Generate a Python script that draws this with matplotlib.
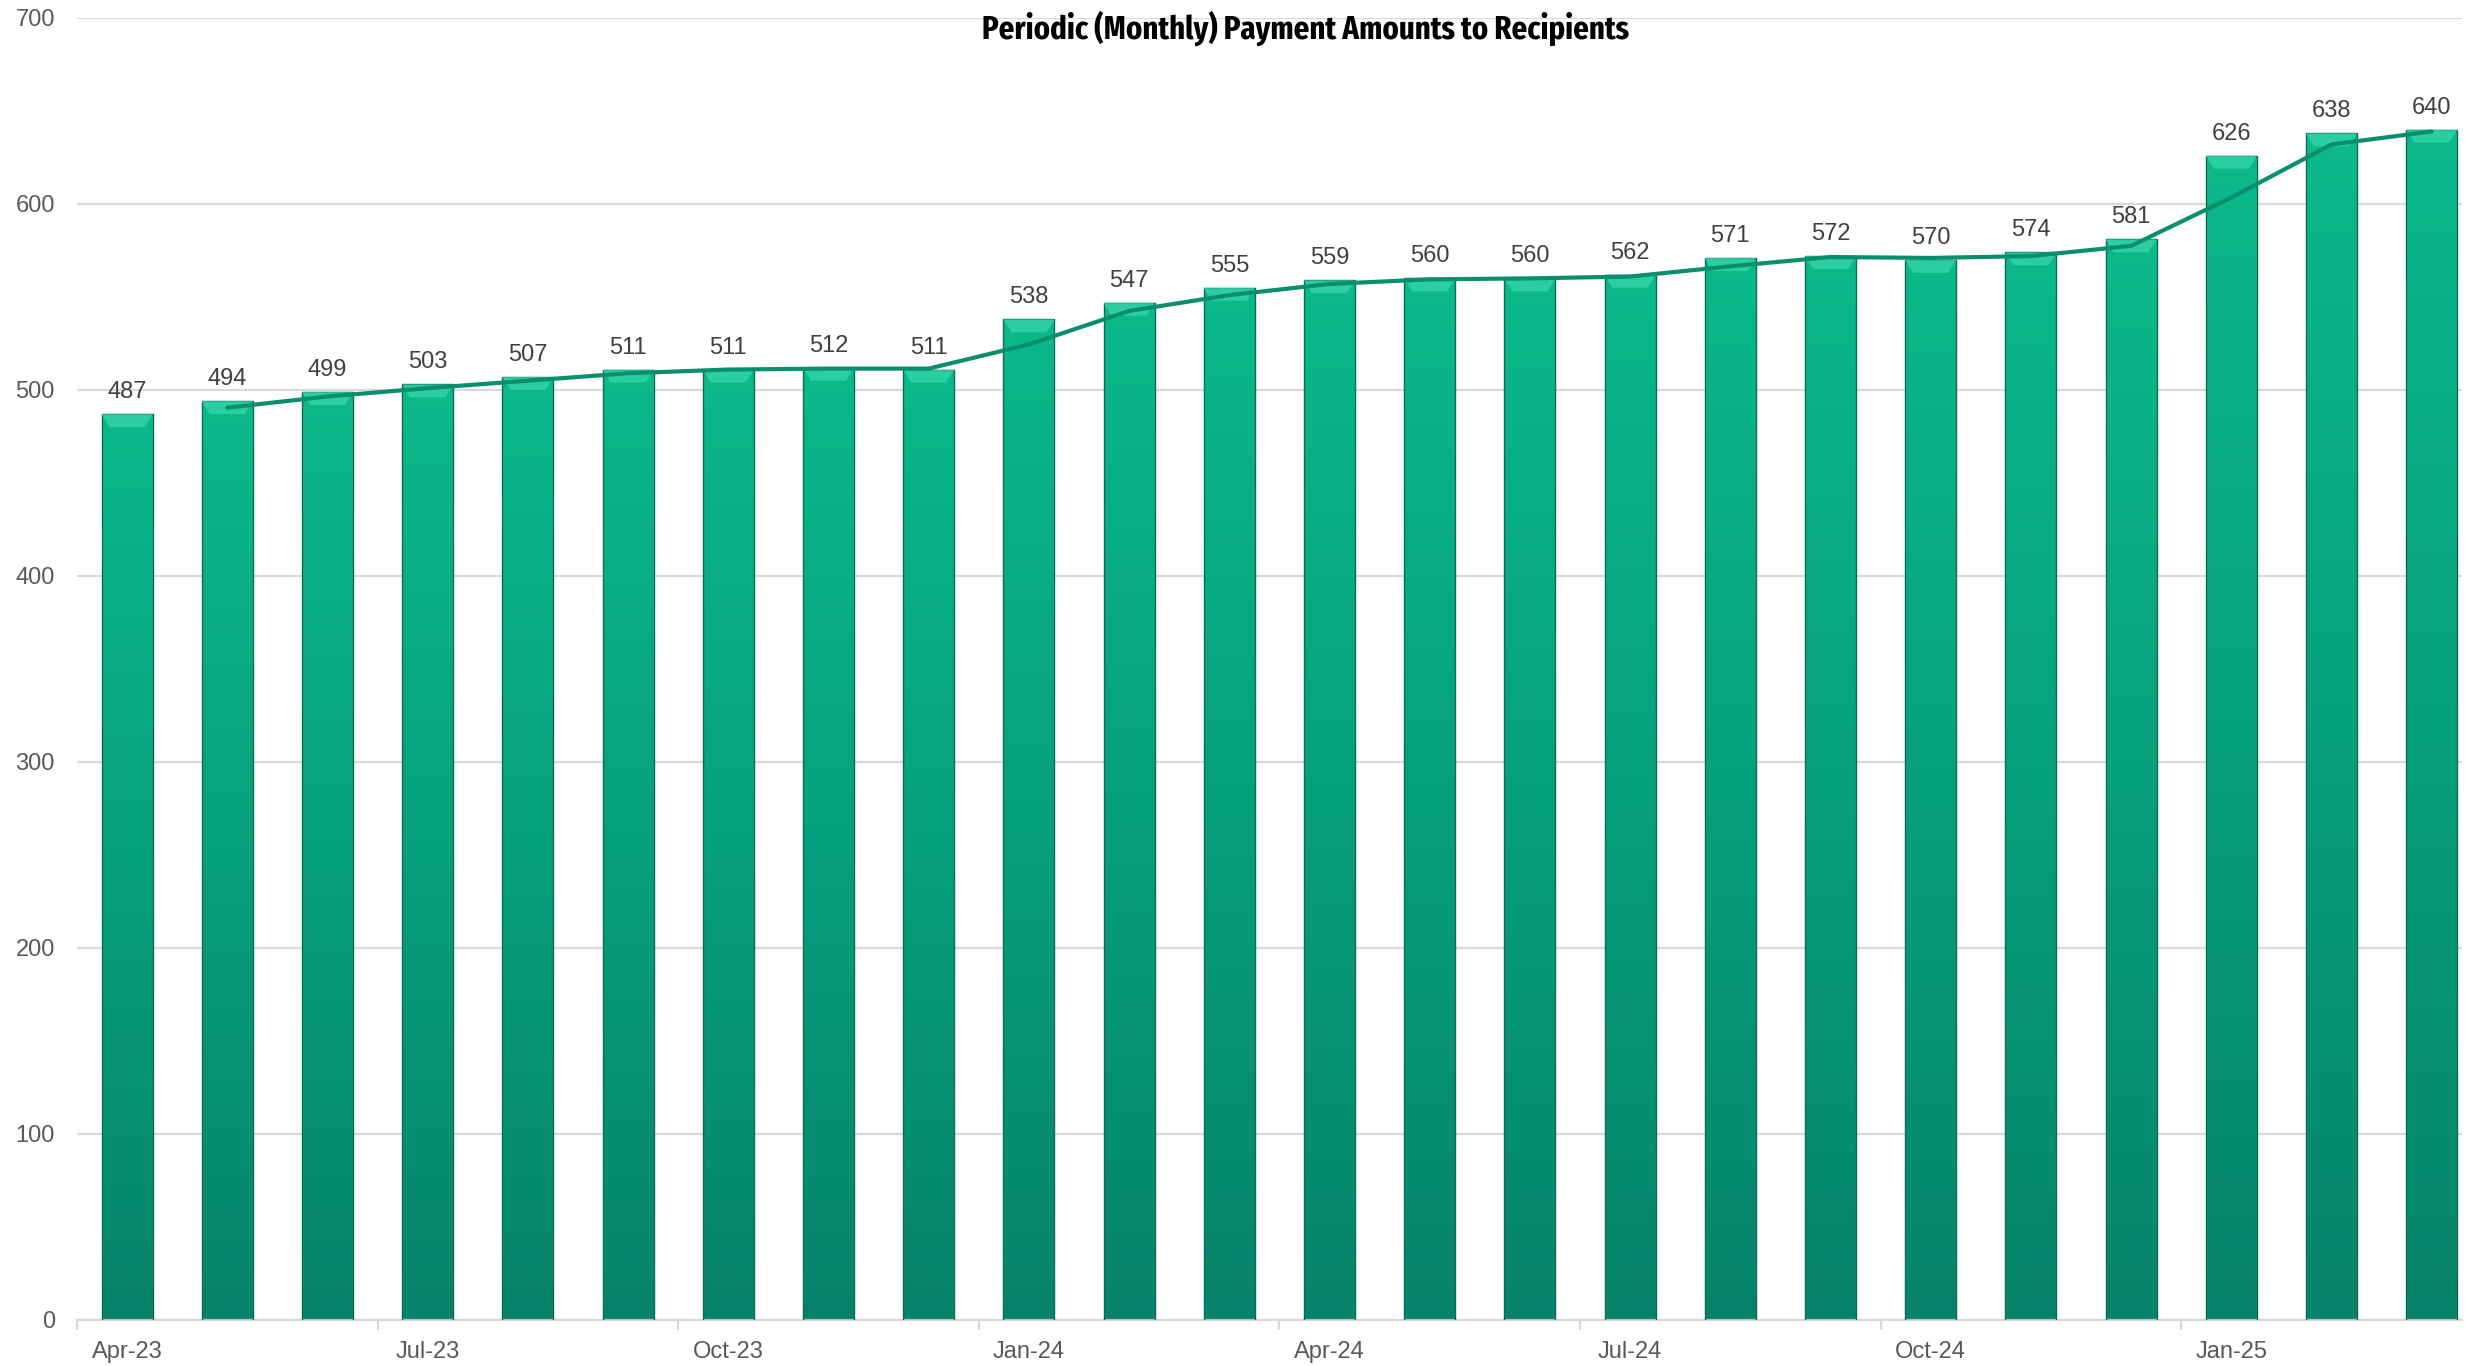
import numpy as np
import pandas as pd
import matplotlib
matplotlib.use('Agg')
import matplotlib.pyplot as plt
from matplotlib import font_manager
from matplotlib.font_manager import FontProperties
from matplotlib.patches import Polygon
from matplotlib.colors import LinearSegmentedColormap

# Daten
months = ['Apr-23', 'May-23', 'Jun-23', 'Jul-23', 'Aug-23', 'Sep-23', 'Oct-23', 'Nov-23',
          'Dec-23', 'Jan-24', 'Feb-24', 'Mar-24', 'Apr-24', 'May-24', 'Jun-24', 'Jul-24',
          'Aug-24', 'Sep-24', 'Oct-24', 'Nov-24', 'Dec-24', 'Jan-25', 'Feb-25', 'Mar-25']
amounts = [487, 494, 499, 503, 507, 511, 511, 512, 511, 538, 547, 555,
           559, 560, 560, 562, 571, 572, 570, 574, 581, 626, 638, 640]
y_ticks = [0, 100, 200, 300, 400, 500, 600, 700]
title = 'Periodic (Monthly) Payment Amounts to Recipients'

plt.rcParams['font.family'] = ['Liberation Sans', 'DejaVu Sans']


# schmale fette Schrift fuer den Titel suchen
def find_narrow_bold():
    best = None
    for f in font_manager.fontManager.ttflist:
        narrow = ('Narrow' in f.name or 'Condensed' in f.name or 'Narrow' in f.fname
                  or 'Condensed' in f.fname or f.stretch in ('condensed', 'semi-condensed'))
        if 'Semi' in f.fname:
            continue
        bold = f.weight in (700, 'bold') and 'Italic' not in f.fname and f.style == 'normal'
        if narrow and bold:
            if 'Liberation' in f.fname:
                score = 0
            elif 'ExtraCondensed' in f.fname:
                score = 1
            else:
                score = 2
            if best is None or score < best[0]:
                best = (score, f.fname)
    return best


found = find_narrow_bold()
if found is None:
    title_fp = FontProperties(family='Liberation Sans', weight='bold', size=16)
elif found[0] == 0:
    title_fp = FontProperties(fname=found[1], size=26)
elif found[0] == 1:
    title_fp = FontProperties(fname=found[1], size=24)
else:
    title_fp = FontProperties(fname=found[1], size=18)

W, H = 2471, 1366
fig = plt.figure(figsize=(W / 100, H / 100), dpi=100)
ax = fig.add_axes([77 / W, 46 / H, 2385 / W, 1302 / H])

x = np.arange(len(amounts))
bw = 0.51
grid_col = '#d9d9d9'

# Balken mit Farbverlauf
cmap = LinearSegmentedColormap.from_list('gr', ['#06836a', '#07a07c', '#0bb98b'])
grad = np.linspace(0, 1, 256).reshape(-1, 1)
bars = ax.bar(x, amounts, width=bw, color='none', edgecolor='#0a6e55', linewidth=1.0, zorder=3)
bevel_h = 13 / (1302 / 700)
inset = 8 / (2385 / 23.8)
for b in bars:
    x0, w, h = b.get_x(), b.get_width(), b.get_height()
    im = ax.imshow(grad, cmap=cmap, origin='lower', extent=[x0, x0 + w, 0, h],
                   aspect='auto', zorder=2, interpolation='bilinear')
    im.set_clip_path(b)
    top = Polygon([(x0, h), (x0 + w, h), (x0 + w - inset, h - bevel_h), (x0 + inset, h - bevel_h)],
                  closed=True, facecolor='#3ad8ae', edgecolor='none', alpha=0.7, zorder=3)
    ax.add_patch(top)

# gleitender Durchschnitt (2 Perioden)
ma = pd.Series(amounts).rolling(2).mean()
ax.plot(x, ma, color='#0a8f6e', lw=3.0, zorder=4, solid_capstyle='round')

# Datenbeschriftungen
for xi, v in zip(x, amounts):
    ax.annotate(str(v), (xi, v), xytext=(0, 11.5), textcoords='offset points',
                ha='center', va='baseline', fontsize=17, color='#404040', zorder=5)

ax.set_ylim(0, 700)
ax.set_xlim(-0.5, -0.5 + 2385 / 100.2)
ax.set_yticks(y_ticks)
ax.yaxis.grid(True, color=grid_col, lw=1.6)
ax.set_axisbelow(True)
ax.tick_params(axis='y', length=0, pad=16, labelsize=17, labelcolor='#595959')

ax.set_xticks(np.arange(-0.5, 21, 3))
ax.set_xticklabels([])
ax.set_xticks(x[::3], minor=True)
ax.set_xticklabels(months[::3], minor=True)
ax.tick_params(axis='x', which='major', length=7, width=1.6, color=grid_col)
ax.tick_params(axis='x', which='minor', length=0, pad=15, labelsize=17, labelcolor='#595959')

for s in ['left', 'right', 'top']:
    ax.spines[s].set_visible(False)
ax.spines['bottom'].set_color(grid_col)
ax.spines['bottom'].set_linewidth(1.6)

fig.text(1306 / W, 1 - 39 / H, title, ha='center', va='baseline',
         fontproperties=title_fp, color='black')

fig.savefig('out.png', dpi=100)
